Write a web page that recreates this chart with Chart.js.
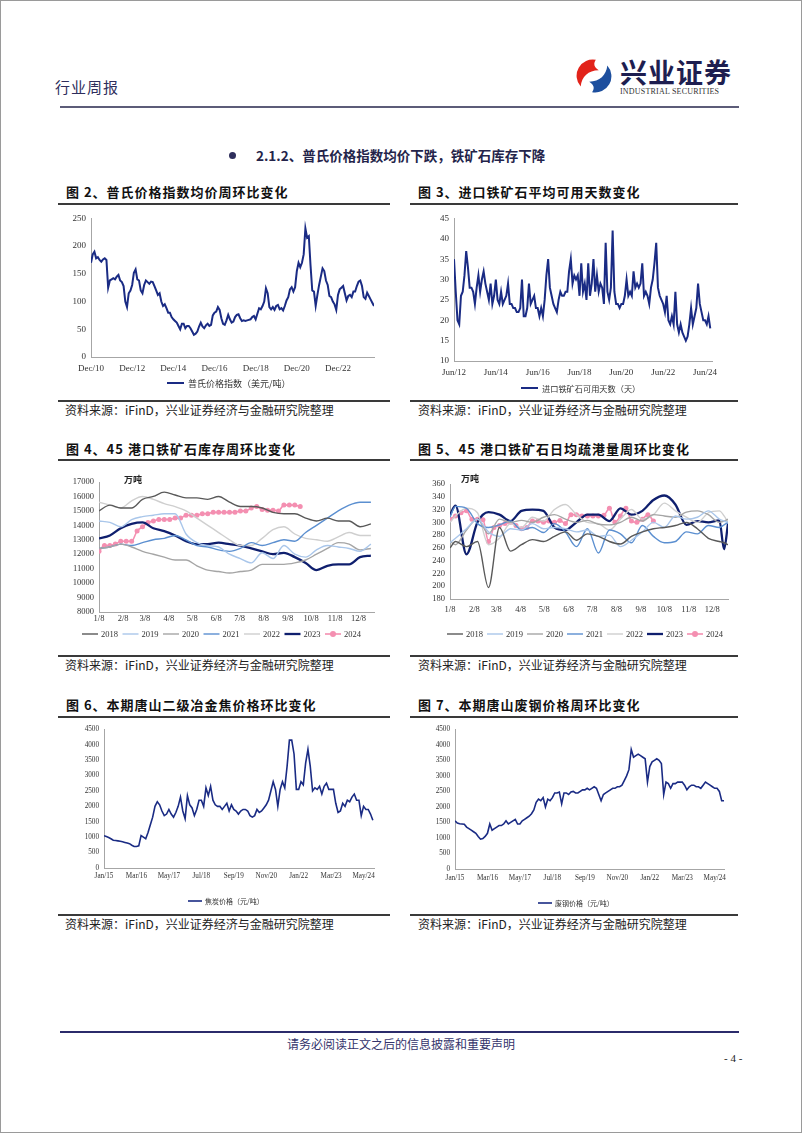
<!DOCTYPE html>
<html>
<head>
<meta charset="utf-8">
<script src="https://cdn.jsdelivr.net/npm/chart.js@4.4.1/dist/chart.umd.min.js"></script>
<style>
  html, body { margin: 0; padding: 0; background: #fff; }
  #page { position: relative; width: 802px; height: 1133px; overflow: hidden; font-family: "Noto Sans CJK SC", sans-serif; }
  .frame { position: absolute; left: 0; top: 0; width: 800px; height: 1131px; border: 1px solid #9a9a9a; }
  .abs { position: absolute; white-space: nowrap; line-height: 1; }
  .rule { position: absolute; background: #3a3a3a; height: 1.5px; }
  .ftitle { font-size: 13px; font-weight: 700; letter-spacing: 1px; color: #111; }
  .src { font-size: 12px; color: #222; }
  canvas { position: absolute; }
</style>
</head>
<body>
<div id="page">
  <div class="frame"></div>

  <!-- header -->
  <div class="abs" style="left:55px;top:79px;font-size:15px;letter-spacing:1px;color:#2e2e5c;">行业周报</div>
  <svg style="position:absolute;left:575px;top:56px;" width="38" height="40" viewBox="0 0 40 40">
    <path d="M22 3 A17 17 0 0 0 6 31 C 7 21 14 14 25 14 C 20 11 19 7 22 3 Z" fill="#e2231a"/>
    <path d="M18 37 A17 17 0 0 0 34 9 C 33 19 26 26 15 26 C 20 29 21 33 18 37 Z" fill="#1d4f9e"/>
  </svg>
  <div class="abs" style="left:620px;top:58px;font-size:27px;font-weight:700;letter-spacing:1px;color:#1e1e50;">兴业证券</div>
  <div class="abs" style="left:620px;top:88px;font-size:8px;font-family:'Liberation Serif',serif;color:#333;letter-spacing:0.2px;">INDUSTRIAL SECURITIES</div>
  <div class="rule" style="left:60px;top:106px;width:679px;background:#5c5c78;"></div>

  <!-- section title -->
  <div style="position:absolute;left:229px;top:152px;width:7px;height:7px;border-radius:50%;background:#2e2e5c;"></div>
  <div class="abs" style="left:256px;top:149px;font-size:13.5px;font-weight:700;color:#24244a;">2.1.2、普氏价格指数均价下跌，铁矿石库存下降</div>

  <!-- row 1 -->
  <div class="abs ftitle" style="left:66px;top:185px;">图 2、普氏价格指数均价周环比变化</div>
  <div class="abs ftitle" style="left:418px;top:185px;">图 3、进口铁矿石平均可用天数变化</div>
  <div class="rule" style="left:58px;top:203px;width:332px;"></div>
  <div class="rule" style="left:410px;top:203px;width:328px;"></div>
  <canvas id="chartPlatts" width="332" height="192" style="left:58px;top:208px;"></canvas>
  <canvas id="chartDays" width="328" height="192" style="left:410px;top:208px;"></canvas>
  <div class="rule" style="left:58px;top:400px;width:332px;"></div>
  <div class="rule" style="left:410px;top:400px;width:328px;"></div>
  <div class="abs src" style="left:65px;top:404px;">资料来源：iFinD，兴业证券经济与金融研究院整理</div>
  <div class="abs src" style="left:418px;top:404px;">资料来源：iFinD，兴业证券经济与金融研究院整理</div>

  <!-- row 2 -->
  <div class="abs ftitle" style="left:66px;top:442px;">图 4、45 港口铁矿石库存周环比变化</div>
  <div class="abs ftitle" style="left:418px;top:442px;">图 5、45 港口铁矿石日均疏港量周环比变化</div>
  <div class="rule" style="left:58px;top:459px;width:332px;"></div>
  <div class="rule" style="left:410px;top:459px;width:328px;"></div>
  <canvas id="chartInv" width="332" height="182" style="left:58px;top:470px;"></canvas>
  <canvas id="chartPort" width="328" height="182" style="left:410px;top:470px;"></canvas>
  <div class="abs" style="left:124px;top:475px;font-size:9px;font-weight:700;color:#222;">万吨</div>
  <div class="abs" style="left:461px;top:474px;font-size:9px;font-weight:700;color:#222;">万吨</div>
  <div class="rule" style="left:58px;top:655px;width:332px;"></div>
  <div class="rule" style="left:410px;top:655px;width:328px;"></div>
  <div class="abs src" style="left:65px;top:659px;">资料来源：iFinD，兴业证券经济与金融研究院整理</div>
  <div class="abs src" style="left:418px;top:659px;">资料来源：iFinD，兴业证券经济与金融研究院整理</div>

  <!-- row 3 -->
  <div class="abs ftitle" style="left:66px;top:698px;">图 6、本期唐山二级冶金焦价格环比变化</div>
  <div class="abs ftitle" style="left:418px;top:698px;">图 7、本期唐山废钢价格周环比变化</div>
  <div class="rule" style="left:58px;top:716px;width:332px;"></div>
  <div class="rule" style="left:410px;top:716px;width:328px;"></div>
  <canvas id="chartCoke" width="332" height="192" style="left:58px;top:720px;"></canvas>
  <canvas id="chartScrap" width="328" height="192" style="left:410px;top:720px;"></canvas>
  <div class="rule" style="left:58px;top:914px;width:332px;"></div>
  <div class="rule" style="left:410px;top:914px;width:328px;"></div>
  <div class="abs src" style="left:65px;top:918px;">资料来源：iFinD，兴业证券经济与金融研究院整理</div>
  <div class="abs src" style="left:418px;top:918px;">资料来源：iFinD，兴业证券经济与金融研究院整理</div>

  <!-- footer -->
  <div class="rule" style="left:60px;top:1031px;width:679px;height:2px;background:#2b2b6b;"></div>
  <div class="abs" style="left:0;width:802px;text-align:center;top:1038px;font-size:12px;color:#33336b;">请务必阅读正文之后的信息披露和重要声明</div>
  <div class="abs" style="left:724px;top:1053px;font-size:11px;font-family:'Liberation Serif',serif;color:#222;">- 4 -</div>
</div>

<script>
"use strict";

// ---- Fig 2: Platts index, monthly, month 0 = Dec 2010 ----
var plattsValues = [170,
  185, 190, 178, 180, 175, 172, 176, 178, 175, 125, 138, 140,
  142, 140, 145, 148, 138, 135, 128, 100, 90, 115, 120, 130,
  152, 158, 140, 138, 120, 115, 130, 138, 135, 132, 136, 135,
  128, 120, 112, 115, 100, 92, 95, 88, 80, 80, 72, 68,
  65, 62, 56, 50, 60, 60, 52, 56, 56, 52, 46, 40,
  42, 46, 55, 62, 55, 52, 57, 60, 56, 58, 75, 80,
  82, 90, 85, 70, 60, 58, 66, 76, 68, 62, 64, 72,
  76, 77, 70, 65, 66, 65, 66, 67, 68, 72, 74, 68,
  78, 88, 86, 92, 100, 124, 115, 90, 86, 90, 85, 92,
  94, 86, 88, 84, 92, 102, 108, 122, 126, 118, 126, 155,
  170, 162, 170, 185, 232, 215, 218, 165, 120, 118, 92, 112,
  130, 145, 160, 155, 138, 130, 110, 108, 100, 95, 85, 112,
  122, 125, 128, 115, 102, 110, 112, 108, 118, 118, 128, 136,
  138, 128, 108, 105, 116, 110, 104, 98, 92];
var plattsTickAt = [0, 24, 48, 72, 96, 120, 144];
var plattsTickLabels = ["Dec/10", "Dec/12", "Dec/14", "Dec/16", "Dec/18", "Dec/20", "Dec/22"];

// ---- Fig 3: available days of imported ore, monthly, month 0 = Jun 2012 ----
var daysValues = [35, 27, 20, 19, 26, 27, 31, 37, 33, 28, 28, 27,
  24, 28, 31, 27, 30, 32, 29, 27, 25, 29, 24, 26,
  30, 25, 24, 27, 24, 25, 26, 29, 24, 24, 23, 23,
  22, 22, 23, 30, 21, 21, 23, 29, 24, 25, 26, 23,
  23, 21, 23, 21, 25, 31, 35, 28, 26, 24, 23, 22,
  25, 27, 26, 26, 27, 27, 32, 35, 29, 31, 30, 31,
  26, 34, 27, 29, 25, 34, 26, 29, 35, 27, 31, 27,
  29, 28, 24, 39, 27, 25, 28, 42, 27, 24, 24, 23,
  24, 24, 26, 30, 26, 27, 26, 32, 28, 29, 28, 29,
  34, 26, 27, 26, 24, 28, 30, 34, 39, 28, 26, 25,
  24, 22, 26, 20, 19, 21, 19, 27, 19, 17, 19, 17,
  16, 15, 16, 19, 23, 19, 21, 23, 29, 24, 22, 20,
  20, 19, 21, 18];
var daysTickAt = [0, 24, 48, 72, 96, 120, 144];
var daysTickLabels = ["Jun/12", "Jun/14", "Jun/16", "Jun/18", "Jun/20", "Jun/22", "Jun/24"];

// ---- Fig 4 / Fig 5 shared month ticks (day of year counted from Jan 8) ----
var seasonTickAt = [0, 31, 59, 90, 120, 151, 181, 212, 243, 273, 304, 334];
var seasonTickLabels = ["1/8", "2/8", "3/8", "4/8", "5/8", "6/8", "7/8", "8/8", "9/8", "10/8", "11/8", "12/8"];
var seasonYears = ["2018", "2019", "2020", "2021", "2022", "2023", "2024"];

// ---- Fig 4: port inventory (10k t) ----
var invDays = [0, 14, 28, 42, 56, 70, 84, 98, 112, 126, 140, 154, 168, 182, 196, 210, 224, 238, 252, 266, 280, 294, 308, 322, 336, 350];
var inv2018 = [15000, 15400, 15200, 15200, 15800, 16000, 16300, 16100, 15900, 15900, 15800, 16000, 15600, 15300, 15300, 15200, 14900, 14800, 14800, 14500, 14300, 14500, 14300, 14300, 13900, 14100];
var inv2019 = [14300, 14200, 13900, 14400, 14600, 14700, 14800, 14800, 13400, 12800, 12600, 12500, 12000, 11700, 11400, 12100, 11700, 12600, 12000, 11800, 12300, 12600, 12500, 12400, 12200, 12700];
var inv2020 = [12400, 12500, 12700, 12500, 12200, 12000, 11800, 11600, 11600, 11200, 10900, 10800, 10700, 10800, 10900, 11300, 11300, 11300, 11400, 11600, 12000, 12400, 12800, 12700, 12300, 12400];
var inv2021 = [12400, 12500, 12700, 12600, 12800, 13000, 13100, 13300, 13000, 12600, 12500, 12300, 12200, 12400, 12800, 12600, 12800, 13000, 12900, 13500, 14000, 14500, 15000, 15400, 15600, 15600];
var inv2022 = [15600, 15400, 15200, 15700, 16000, 15800, 15500, 15300, 15000, 14500, 14000, 13500, 13000, 12600, 12600, 13100, 13700, 13900, 13400, 13100, 13000, 12900, 13200, 13500, 13300, 13300];
var inv2023 = [13100, 13300, 13800, 14100, 14200, 13800, 13600, 13300, 12900, 12700, 12700, 12800, 12700, 12600, 12400, 12200, 12000, 12100, 11800, 11400, 10900, 11200, 11300, 11300, 11800, 11900];
var inv2024Days = [0, 7, 14, 21, 28, 35, 42, 49, 56, 63, 70, 77, 84, 91, 98, 105, 112, 119, 126, 133, 140, 147, 154, 161, 168, 175, 182, 189, 196, 203, 210, 217, 224, 231, 238, 245, 252, 259];
var inv2024 = [12200, 12600, 12600, 12700, 12900, 12900, 12900, 13600, 13900, 14200, 14300, 14400, 14400, 14400, 14500, 14500, 14700, 14700, 14700, 14800, 14800, 14900, 14900, 14900, 14900, 14900, 15000, 15000, 15200, 15300, 15100, 15050, 15050, 15000, 15400, 15400, 15400, 15300];

// ---- Fig 5: daily port clearance (10k t) ----
var portDays = [0, 7, 21, 35, 49, 63, 77, 91, 105, 119, 133, 147, 161, 175, 189, 203, 217, 231, 245, 259, 273, 287, 301, 315, 329, 343, 349, 354];
var port2018 = [260, 270, 262, 270, 198, 292, 255, 265, 273, 270, 278, 285, 272, 282, 278, 270, 266, 278, 285, 290, 292, 295, 300, 290, 275, 270, 268, 265];
var port2019 = [268, 275, 290, 305, 285, 278, 290, 288, 298, 290, 292, 290, 285, 288, 278, 280, 262, 272, 285, 300, 292, 310, 305, 308, 318, 305, 302, 300];
var port2020 = [270, 265, 288, 305, 282, 305, 300, 303, 300, 308, 312, 305, 300, 303, 297, 296, 300, 308, 302, 312, 310, 308, 316, 318, 312, 300, 302, 305];
var port2021 = [308, 325, 322, 298, 292, 296, 302, 288, 292, 284, 298, 285, 262, 290, 252, 288, 282, 268, 295, 278, 268, 270, 285, 282, 295, 292, 296, 300];
var port2022 = [300, 310, 322, 315, 265, 275, 298, 292, 308, 302, 320, 328, 312, 300, 298, 288, 305, 320, 305, 312, 330, 318, 308, 300, 315, 318, 310, 300];
var port2023 = [312, 326, 250, 300, 316, 312, 302, 318, 320, 318, 292, 288, 300, 312, 312, 302, 322, 312, 318, 335, 342, 328, 296, 302, 300, 303, 258, 298];
var port2024Days = [0, 7, 14, 21, 28, 35, 42, 49, 56, 63, 70, 77, 84, 91, 98, 105, 112, 119, 126, 133, 140, 147, 154, 161, 168, 175, 182, 189, 196, 203, 210, 217, 224, 231, 238, 245, 252, 259];
var port2024 = [305, 310, 315, 318, 305, 305, 304, 270, 292, 295, 298, 300, 295, 290, 292, 302, 302, 300, 302, 300, 303, 298, 312, 312, 310, 310, 310, 310, 311, 322, 300, 310, 322, 302, 300, 305, 312, 302];

// ---- Fig 6: Tangshan coke price, monthly, month 0 = Jan 2015 ----
var cokeValues = [1050, 1020, 990, 950, 900, 890, 880, 870, 850, 830, 810, 790,
  740, 700, 700, 720, 1050, 1000, 950, 1150, 1400, 1650, 2000, 2150,
  2050, 1850, 1700, 1750, 1900, 1750, 1650, 1800, 2000, 2300, 1850, 1600,
  2350, 2050, 1950, 1700, 1900, 2200, 2200, 2000, 2600, 2350, 2650, 2200,
  2050, 2000, 2000, 1900, 2000, 2100, 1850, 2050, 1900, 1850, 1750, 1850,
  1900, 1900, 1850, 1700, 1650, 1700, 1900, 1800, 1850, 1950, 2050, 2200,
  2500, 2800, 2550, 2000, 2550, 2800, 2600, 3300, 4150, 4150, 3700, 2550,
  2550, 2800, 2700, 3400, 3850, 3300, 2500, 2600, 2550, 2650, 2400, 2650,
  2750, 2550, 2550, 2550, 2100, 1800, 1850, 2100, 2000, 2200, 2150, 2300,
  2400, 2200, 2200, 1700, 2000, 1900, 1900, 1750, 1550];

// ---- Fig 7: Tangshan scrap price, monthly, month 0 = Jan 2015 ----
var scrapValues = [1550, 1480, 1460, 1450, 1440, 1350, 1300, 1250, 1200, 1150, 1050, 960,
  980, 1050, 1150, 1450, 1250, 1300, 1350, 1400, 1400, 1450, 1550, 1450,
  1500, 1550, 1600, 1450, 1450, 1550, 1600, 1650, 1700, 1780, 1900, 2150,
  2250, 2200, 2300, 2000, 2250, 2200, 2300, 2450, 2450, 2480, 2100, 2450,
  2450, 2400, 2480, 2500, 2450, 2450, 2500, 2550, 2550, 2600, 2550, 2600,
  2650, 2600, 2400, 2200, 2400, 2450, 2500, 2550, 2600, 2600, 2650, 2650,
  2700, 2850, 3000, 3200, 3850, 3600, 3650, 3700, 3650, 3600, 3550, 2800,
  3300, 3450, 3500, 3550, 3500, 3400, 2400, 2800, 2750, 2600, 2750, 2750,
  2800, 2800, 2800, 2700, 2550, 2650, 2700, 2700, 2650, 2650, 2600, 2700,
  2800, 2750, 2700, 2650, 2600, 2600, 2500, 2200, 2200];
var steelTickAt = [0, 14, 28, 42, 56, 70, 84, 98, 112];
var steelTickLabels = ["Jan/15", "Mar/16", "May/17", "Jul/18", "Sep/19", "Nov/20", "Jan/22", "Mar/23", "May/24"];

var NAVY = "#1a2b84";
var AXIS = "#a6a6a6";
var YEAR_COLORS = ["#595959", "#a9c6ea", "#a5a5a5", "#5b8fd0", "#cfcfcf", "#0f1f6e", "#f48fb1"];

Chart.defaults.font.family = "'Liberation Serif', serif";
Chart.defaults.color = "#333";

// small line legend drawn under the plot, Excel style
var lineLegend = {
  id: "lineLegend",
  afterDraw: function (chart, args, opts) {
    if (!opts || opts.y === undefined) return;
    var ctx = chart.ctx;
    ctx.save();
    ctx.font = opts.font;
    ctx.textBaseline = "middle";
    chart.data.datasets.forEach(function (ds, i) {
      var x = opts.x + i * (opts.spacing || 0);
      ctx.strokeStyle = ds.borderColor;
      ctx.lineWidth = ds.borderWidth;
      ctx.beginPath();
      ctx.moveTo(x, opts.y);
      ctx.lineTo(x + opts.lineLen, opts.y);
      ctx.stroke();
      if (ds.pointRadius > 0) {
        ctx.fillStyle = ds.borderColor;
        ctx.beginPath();
        ctx.arc(x + opts.lineLen / 2, opts.y, ds.pointRadius + 0.5, 0, Math.PI * 2);
        ctx.fill();
      }
      ctx.fillStyle = "#333";
      ctx.fillText(ds.label, x + opts.lineLen + opts.gap, opts.y + 0.5);
    });
    ctx.restore();
  }
};
Chart.register(lineLegend);

function toPoints(xs, ys) {
  return ys.map(function (v, i) { return { x: xs[i], y: v }; });
}

function indexPoints(ys) {
  return ys.map(function (v, i) { return { x: i, y: v }; });
}

function makeOptions(cfg) {
  return {
    responsive: false,
    animation: false,
    layout: { padding: { top: cfg.padTop, right: cfg.padRight, left: 0, bottom: 0 } },
    plugins: {
      legend: { display: false },
      tooltip: { enabled: false },
      lineLegend: cfg.legend
    },
    scales: {
      x: {
        type: "linear", min: cfg.xMin, max: cfg.xMax,
        grid: { display: false, drawTicks: false },
        border: { color: AXIS, width: 1 },
        afterBuildTicks: function (s) { s.ticks = cfg.tickAt.map(function (v) { return { value: v }; }); },
        afterFit: function (s) { s.height = cfg.xHeight; },
        ticks: {
          autoSkip: false, maxRotation: 0, padding: cfg.xPad,
          font: { size: cfg.fontSize },
          callback: function (v, i) { return cfg.tickLabels[i]; }
        }
      },
      y: {
        min: cfg.yMin, max: cfg.yMax,
        grid: { display: false, drawTicks: false },
        border: { color: AXIS, width: 1 },
        afterFit: function (s) { s.width = cfg.yWidth; },
        ticks: {
          stepSize: cfg.yStep, autoSkip: false, padding: 5, font: { size: cfg.fontSize },
          callback: function (v) { return String(v); }
        }
      }
    }
  };
}

function navyLine(label, points, width) {
  return {
    label: label, data: points, borderColor: NAVY, borderWidth: width,
    pointRadius: 0, tension: 0, fill: false
  };
}

function yearLines(xs, series, xs2024, last) {
  var sets = series.map(function (ys, i) {
    return {
      label: seasonYears[i], data: toPoints(xs, ys),
      borderColor: YEAR_COLORS[i], borderWidth: i === 5 ? 2.3 : 1.4,
      pointRadius: 0, tension: 0.35, cubicInterpolationMode: "monotone", fill: false
    };
  });
  sets.push({
    label: "2024", data: toPoints(xs2024, last),
    borderColor: YEAR_COLORS[6], backgroundColor: YEAR_COLORS[6], borderWidth: 1.6,
    pointRadius: 2.5, pointBackgroundColor: YEAR_COLORS[6], pointBorderWidth: 0,
    tension: 0.3, cubicInterpolationMode: "monotone", fill: false
  });
  return sets;
}

// ---- Fig 2 ----
new Chart(document.getElementById("chartPlatts"), {
  type: "line",
  data: { datasets: [navyLine("普氏价格指数（美元/吨）", indexPoints(plattsValues), 2)] },
  options: makeOptions({
    padTop: 10, padRight: 16, yWidth: 33, xHeight: 43, xPad: 6, fontSize: 9,
    xMin: 0, xMax: 165, yMin: 0, yMax: 250, yStep: 50,
    tickAt: plattsTickAt, tickLabels: plattsTickLabels,
    legend: { x: 109, y: 175, lineLen: 17, gap: 4, font: "9px 'Noto Sans CJK SC'" }
  })
});

// ---- Fig 3 ----
new Chart(document.getElementById("chartDays"), {
  type: "line",
  data: { datasets: [navyLine("进口铁矿石可用天数（天）", indexPoints(daysValues), 2)] },
  options: makeOptions({
    padTop: 10, padRight: 26, yWidth: 44, xHeight: 39, xPad: 6, fontSize: 9,
    xMin: 0, xMax: 148, yMin: 10, yMax: 45, yStep: 5,
    tickAt: daysTickAt, tickLabels: daysTickLabels,
    legend: { x: 111, y: 180, lineLen: 17, gap: 4, font: "8.2px 'Noto Sans CJK SC'" }
  })
});

// ---- Fig 4 ----
new Chart(document.getElementById("chartInv"), {
  type: "line",
  data: { datasets: yearLines(invDays, [inv2018, inv2019, inv2020, inv2021, inv2022, inv2023], inv2024Days, inv2024) },
  options: makeOptions({
    padTop: 12, padRight: 16, yWidth: 41, xHeight: 40, xPad: 2, fontSize: 8.5,
    xMin: 0, xMax: 354, yMin: 8000, yMax: 17000, yStep: 1000,
    tickAt: seasonTickAt, tickLabels: seasonTickLabels,
    legend: { x: 24, y: 164, spacing: 40.5, lineLen: 16, gap: 3, font: "8.5px 'Liberation Serif'" }
  })
});

// ---- Fig 5 ----
new Chart(document.getElementById("chartPort"), {
  type: "line",
  data: { datasets: yearLines(portDays, [port2018, port2019, port2020, port2021, port2022, port2023], port2024Days, port2024) },
  options: makeOptions({
    padTop: 14, padRight: 10, yWidth: 40, xHeight: 53, xPad: 6, fontSize: 8.5,
    xMin: 0, xMax: 354, yMin: 180, yMax: 360, yStep: 20,
    tickAt: seasonTickAt, tickLabels: seasonTickLabels,
    legend: { x: 37, y: 164, spacing: 40, lineLen: 16, gap: 3, font: "8.5px 'Liberation Serif'" }
  })
});

// ---- Fig 6 ----
new Chart(document.getElementById("chartCoke"), {
  type: "line",
  data: { datasets: [navyLine("焦炭价格（元/吨）", indexPoints(cokeValues), 1.6)] },
  options: makeOptions({
    padTop: 6, padRight: 16, yWidth: 46, xHeight: 44, xPad: 4, fontSize: 7.2,
    xMin: 0, xMax: 116.5, yMin: 0, yMax: 4500, yStep: 500,
    tickAt: steelTickAt, tickLabels: steelTickLabels,
    legend: { x: 130, y: 181, lineLen: 14, gap: 3, font: "7px 'Noto Sans CJK SC'" }
  })
});

// ---- Fig 7 ----
new Chart(document.getElementById("chartScrap"), {
  type: "line",
  data: { datasets: [navyLine("废钢价格（元/吨）", indexPoints(scrapValues), 1.6)] },
  options: makeOptions({
    padTop: 5, padRight: 14, yWidth: 45, xHeight: 43, xPad: 5, fontSize: 7.2,
    xMin: 0, xMax: 116, yMin: 0, yMax: 4500, yStep: 500,
    tickAt: steelTickAt, tickLabels: steelTickLabels,
    legend: { x: 128, y: 183, lineLen: 14, gap: 3, font: "7px 'Noto Sans CJK SC'" }
  })
});
</script>
</body>
</html>
